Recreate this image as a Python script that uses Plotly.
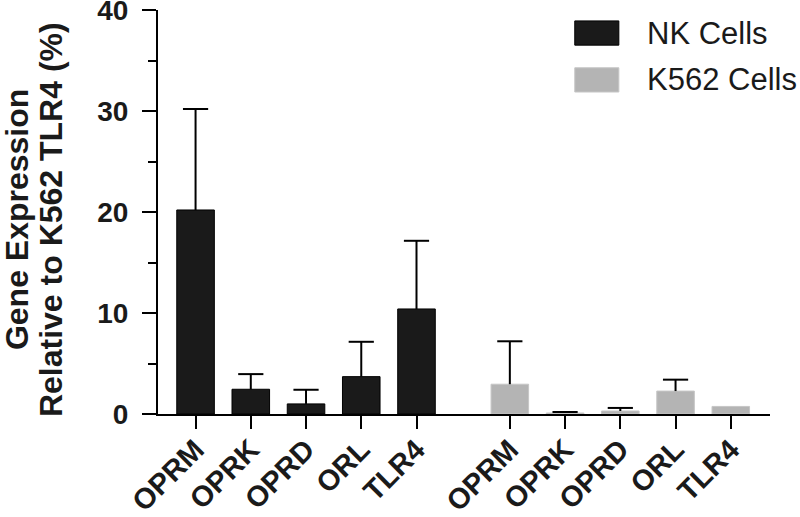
import numpy as np
import plotly.graph_objects as go

genes = ['OPRM', 'OPRK', 'OPRD', 'ORL', 'TLR4']
nk_values = [20.2, 2.45, 1.0, 3.7, 10.4]
nk_errors = [10.0, 1.5, 1.4, 3.45, 6.75]
k562_values = [2.95, 0.1, 0.3, 2.27, 0.75]
k562_errors = [4.25, 0.1, 0.3, 1.13, 0]
y_ticks = [0, 10, 20, 30, 40]
y_title = ['Gene Expression', 'Relative to K562 TLR4 (%)']

FONT = 'Liberation Sans, Arial, sans-serif'
nk_x = np.arange(len(genes))
k562_x = nk_x + 5.69  # gap between the two groups

fig = go.Figure()
for x, vals, errs, fill, edge, name in [
    (nk_x, nk_values, nk_errors, '#1a1a1a', '#000000', 'NK Cells'),
    (k562_x, k562_values, k562_errors, '#b4b4b4', '#c6c6c6', 'K562 Cells'),
]:
    fig.add_trace(go.Bar(
        x=x, y=vals, name=name, width=0.68,
        marker=dict(color=fill, line=dict(color=edge, width=1)),
        error_y=dict(type='data', symmetric=False, array=errs,
                     arrayminus=[0] * len(errs), width=0, thickness=2, color='black'),
        showlegend=False
    ))
    # caps at the top of each error bar
    fig.add_trace(go.Scatter(
        x=x, y=[v + e if e > 0 else None for v, e in zip(vals, errs)],
        mode='markers', hoverinfo='skip', showlegend=False,
        marker=dict(symbol='line-ew', size=18, line=dict(width=2, color='black'))
    ))

fig.update_layout(
    width=800, height=517,
    margin=dict(l=158, r=30, t=10, b=103),
    plot_bgcolor='white', paper_bgcolor='white',
    barmode='overlay',
    font=dict(family=FONT, color='#1a1a1a'),
)
fig.update_xaxes(
    range=[-0.68, 10.4], automargin=False,
    tickvals=list(nk_x) + list(k562_x),
    ticktext=[f'<b>{g}</b>' for g in genes] * 2,
    tickangle=-45, tickfont=dict(size=29, family=FONT, color='#1a1a1a'),
    ticks='outside', ticklen=13, tickwidth=2, tickcolor='black',
    ticklabelstandoff=-8, ticklabeloverflow='allow',
    showline=True, linewidth=2, linecolor='black',
    showgrid=False, zeroline=False,
)
fig.update_yaxes(
    range=[0, 40], tickvals=y_ticks, automargin=False,
    ticktext=[f'<b>{t}</b>' for t in y_ticks],
    tickfont=dict(size=28, family=FONT, color='#1a1a1a'),
    ticks='outside', ticklen=14, tickwidth=2, tickcolor='black',
    ticklabelstandoff=8, ticklabeloverflow='allow',
    minor=dict(dtick=5, tick0=0, ticks='outside', ticklen=8, tickwidth=2, tickcolor='black'),
    showline=True, linewidth=2, linecolor='black',
    showgrid=False, zeroline=False,
)

# y axis title as two rotated lines (tighter line spacing than plotly's title)
for line, shift in zip(y_title, [-141, -107]):
    fig.add_annotation(x=0, y=0.48, xref='paper', yref='paper', xshift=shift,
                       text=f'<b>{line}</b>', textangle=-90, showarrow=False,
                       xanchor='center', yanchor='middle',
                       font=dict(size=32, family=FONT, color='#1a1a1a'))

# legend drawn by hand so the swatches match the large boxes
legend_items = [('NK Cells', '#1a1a1a', '#000000', 0.943),
                ('K562 Cells', '#b4b4b4', '#c6c6c6', 0.827)]
for label, fill, edge, yc in legend_items:
    fig.add_shape(type='rect', xref='paper', yref='paper',
                  x0=0.681, x1=0.753, y0=yc - 0.03, y1=yc + 0.03,
                  fillcolor=fill, line=dict(color=edge, width=1))
    fig.add_annotation(x=0.796, y=yc, xref='paper', yref='paper', text=label,
                       showarrow=False, xanchor='left', yanchor='middle',
                       font=dict(size=31, family=FONT, color='#1a1a1a'))

# drop the default page margin so the figure fills the window
fig.write_html('out.html', config={'displayModeBar': False},
               post_script="document.body.style.margin='0';")
